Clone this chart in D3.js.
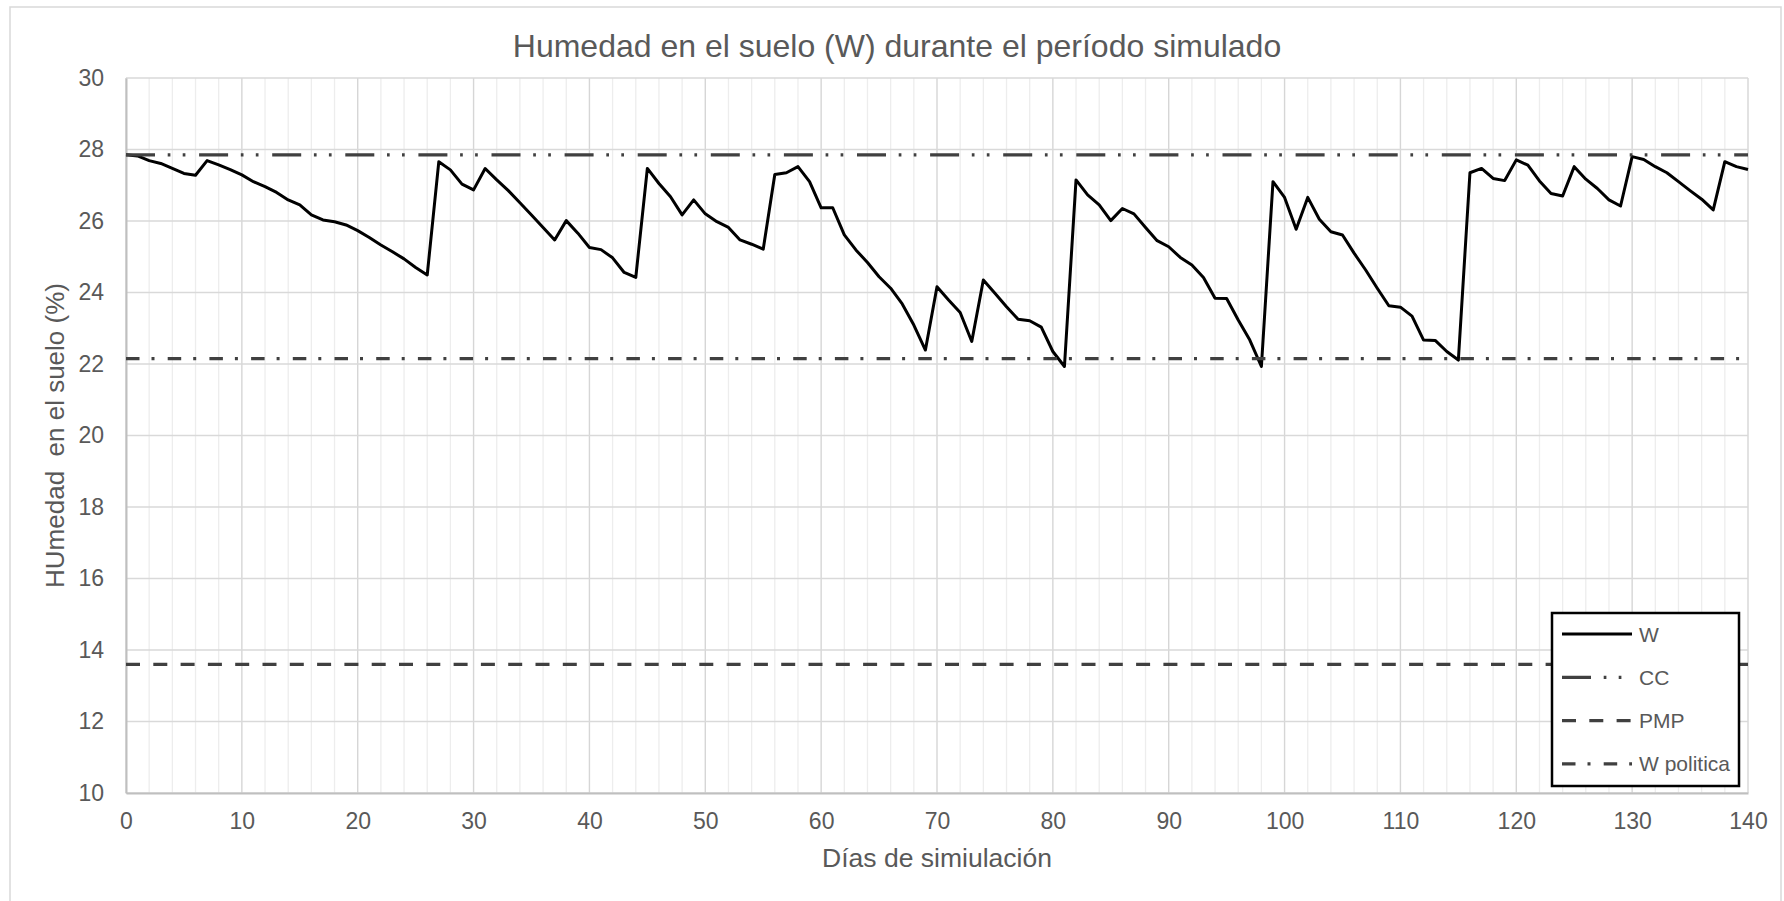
<!DOCTYPE html>
<html>
<head>
<meta charset="utf-8">
<script src="https://cdn.jsdelivr.net/npm/d3@7"></script>
<style>
  body { margin: 0; background: #fff; }
  text { font-family: "Liberation Sans", Arial, sans-serif; fill: #595959; }
</style>
</head>
<body>
<div id="chart-area"></div>
<script>
// humedad del suelo W (%) por dia de simulacion, dia 0 a 140
const humedad = [
  27.85, 27.82, 27.69, 27.61, 27.47, 27.33, 27.28, 27.69, 27.57, 27.44,
  27.29, 27.10, 26.96, 26.80, 26.59, 26.45, 26.17, 26.03, 25.98, 25.89,
  25.73, 25.54, 25.33, 25.14, 24.94, 24.70, 24.49, 27.66, 27.43, 27.03,
  26.87, 27.47, 27.15, 26.85, 26.51, 26.17, 25.82, 25.47, 26.01, 25.66,
  25.26, 25.20, 24.97, 24.56, 24.42, 27.47, 27.05, 26.68, 26.17, 26.59,
  26.20, 25.98, 25.82, 25.47, 25.35, 25.21, 27.30, 27.35, 27.52, 27.10,
  26.37, 26.37, 25.61, 25.19, 24.84, 24.44, 24.12, 23.68, 23.09, 22.39,
  24.16, 23.79, 23.44, 22.63, 24.35, 23.98, 23.60, 23.25, 23.21, 23.03,
  22.35, 21.93, 27.15, 26.73, 26.45, 26.01, 26.35, 26.20, 25.82, 25.45,
  25.28, 24.98, 24.77, 24.42, 23.84, 23.83, 23.23, 22.67, 21.93, 27.10,
  26.66, 25.77, 26.66, 26.05, 25.70, 25.61, 25.10, 24.63, 24.12, 23.63,
  23.59, 23.34, 22.67, 22.66, 22.35, 22.11, 27.35, 27.47, 27.19, 27.13,
  27.71, 27.56, 27.12, 26.77, 26.70, 27.52, 27.17, 26.91, 26.59, 26.42,
  27.80, 27.72, 27.52, 27.35, 27.10, 26.85, 26.61, 26.31, 27.66, 27.52,
  27.44
];
const CC = 27.85;        // capacidad de campo
const PMP = 13.6;        // punto de marchitez permanente
const W_POLITICA = 22.15;

const xTicks = [0, 10, 20, 30, 40, 50, 60, 70, 80, 90, 100, 110, 120, 130, 140];
const xMinor = [2, 4, 6, 8, 12, 14, 16, 18, 22, 24, 26, 28, 32, 34, 36, 38, 42, 44, 46, 48,
  52, 54, 56, 58, 62, 64, 66, 68, 72, 74, 76, 78, 82, 84, 86, 88, 92, 94, 96, 98,
  102, 104, 106, 108, 112, 114, 116, 118, 122, 124, 126, 128, 132, 134, 136, 138];
const yTicks = [10, 12, 14, 16, 18, 20, 22, 24, 26, 28, 30];

const legendItems = ["W", "CC", "PMP", "W politica"];

let W = 1784, H = 901;
let margin = {top: 78, right: 36, bottom: 108, left: 126},
    width = W - margin.left - margin.right,
    height = H - margin.top - margin.bottom;

let dashCC = "29,12.7,2.7,12.3,2.7,13.7",
    dashPMP = "14,13.3",
    dashPol = "13.5,12,3,13.2",
    lineGray = "#404040";

let svg = d3.select("#chart-area")
  .append("svg")
  .attr("width", W)
  .attr("height", H);

// borde del area del grafico
svg.append("rect")
  .attr("x", 10).attr("y", 7)
  .attr("width", 1771).attr("height", 900)
  .attr("fill", "#fff")
  .attr("stroke", "#d9d9d9")
  .attr("stroke-width", 1.5);

let g = svg.append("g")
  .attr("transform", "translate(" + margin.left + "," + margin.top + ")");

let x = d3.scaleLinear().domain([0, 140]).range([0, width]);
let y = d3.scaleLinear().domain([10, 30]).range([height, 0]);

// grid
g.append("g").selectAll("line").data(xMinor).enter().append("line")
  .attr("x1", d => x(d)).attr("x2", d => x(d))
  .attr("y1", 0).attr("y2", height)
  .attr("stroke", "#ededed").attr("stroke-width", 1.3);

g.append("g").selectAll("line").data(xTicks).enter().append("line")
  .attr("x1", d => x(d)).attr("x2", d => x(d))
  .attr("y1", 0).attr("y2", height)
  .attr("stroke", "#d6d6d6").attr("stroke-width", 1.4);

g.append("g").selectAll("line").data(yTicks).enter().append("line")
  .attr("x1", 0).attr("x2", width)
  .attr("y1", d => y(d)).attr("y2", d => y(d))
  .attr("stroke", "#d9d9d9").attr("stroke-width", 1.6);

// ejes
let xAxis = d3.axisBottom(x).tickValues(xTicks).tickSize(0).tickPadding(20);
let yAxis = d3.axisLeft(y).tickValues(yTicks).tickSize(0).tickPadding(22);

let xAxisGroup = g.append("g")
  .attr("transform", "translate(0," + height + ")")
  .call(xAxis);
let yAxisGroup = g.append("g").call(yAxis);

[xAxisGroup, yAxisGroup].forEach(ax => {
  ax.select(".domain").attr("stroke", "#bfbfbf").attr("stroke-width", 2);
  ax.selectAll("text")
    .style("font-family", "'Liberation Sans', Arial, sans-serif")
    .style("font-size", "23px")
    .attr("fill", "#595959");
});

// serie W
let line = d3.line()
  .x((d, i) => x(i))
  .y(d => y(d));

g.append("path")
  .datum(humedad)
  .attr("d", line)
  .attr("fill", "none")
  .attr("stroke", "#000")
  .attr("stroke-width", 3)
  .attr("stroke-linejoin", "round");

// lineas constantes
let constantes = [
  {v: CC, dash: dashCC},
  {v: PMP, dash: dashPMP},
  {v: W_POLITICA, dash: dashPol}
];
g.append("g").selectAll("line").data(constantes).enter().append("line")
  .attr("x1", 0).attr("x2", width)
  .attr("y1", d => y(d.v)).attr("y2", d => y(d.v))
  .attr("stroke", lineGray)
  .attr("stroke-width", 3.3)
  .attr("stroke-dasharray", d => d.dash);

// titulo
svg.append("text")
  .attr("x", 897).attr("y", 57)
  .attr("text-anchor", "middle")
  .style("font-size", "32px")
  .text("Humedad en el suelo (W) durante el período simulado");

svg.append("text")
  .attr("x", margin.left + width / 2).attr("y", 867)
  .attr("text-anchor", "middle")
  .style("font-size", "26.5px")
  .text("Días de simiulación");

svg.append("text")
  .attr("transform", "translate(64," + (margin.top + height / 2) + ") rotate(-90)")
  .attr("text-anchor", "middle")
  .style("font-size", "26px")
  .text("HUmedad\u00a0 en el suelo (%)");

// leyenda
let legend = svg.append("g").attr("transform", "translate(1552,613)");
legend.append("rect")
  .attr("width", 187).attr("height", 173)
  .attr("fill", "#fff")
  .attr("stroke", "#000")
  .attr("stroke-width", 2.5);

let legendDash = [null, dashCC, dashPMP, dashPol];
let rows = legend.selectAll(".leg").data(legendItems).enter().append("g")
  .attr("class", "leg")
  .attr("transform", (d, i) => "translate(0," + (21 + i * 43.3) + ")");

rows.append("line")
  .attr("x1", 10).attr("x2", 80)
  .attr("stroke", (d, i) => i === 0 ? "#000" : lineGray)
  .attr("stroke-width", (d, i) => i === 0 ? 3 : 3.3)
  .attr("stroke-dasharray", (d, i) => legendDash[i]);

rows.append("text")
  .attr("x", 87).attr("dy", "0.36em")
  .style("font-size", "21px")
  .text(d => d);
</script>
</body>
</html>
